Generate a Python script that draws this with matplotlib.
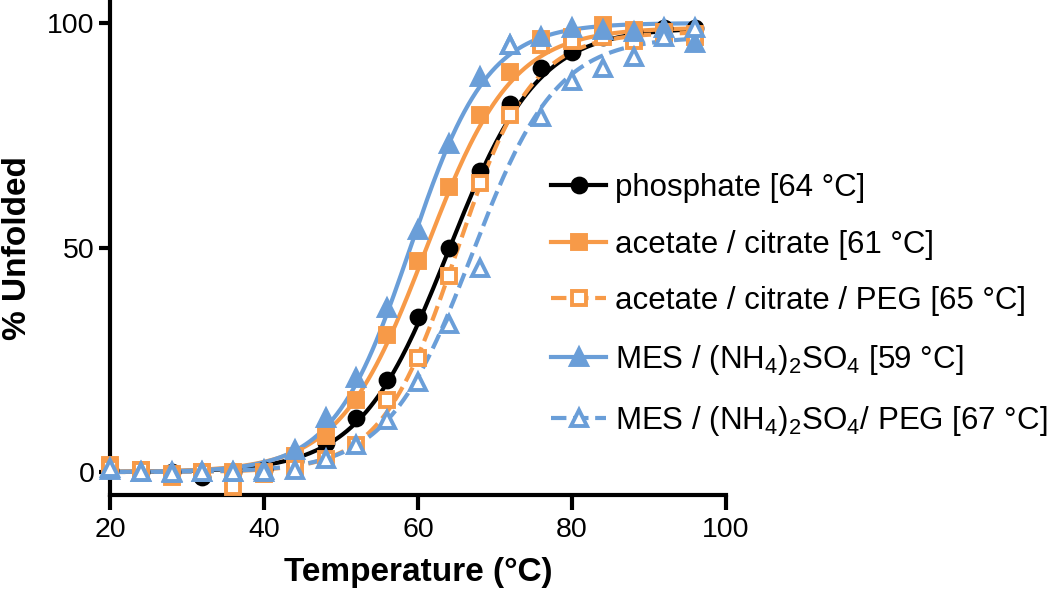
import numpy as np
import matplotlib
matplotlib.use("Agg")
import matplotlib.pyplot as plt
from matplotlib.lines import Line2D

plt.rcParams['font.family'] = ['Liberation Sans', 'DejaVu Sans']
plt.rcParams['mathtext.fontset'] = 'custom'
plt.rcParams['mathtext.rm'] = 'Liberation Sans'
plt.rcParams['mathtext.it'] = 'Liberation Sans:italic'
plt.rcParams['mathtext.bf'] = 'Liberation Sans:bold'

# --- data ---
temps = [20, 24, 28, 32, 36, 40, 44, 48, 52, 56, 60, 64, 68, 72, 76, 80, 84, 88, 92, 96]

phosphate = [0.5, 0, 0, -1, 0, 0.5, 2.5, 6.5, 12, 20.5, 34.5, 50, 67, 82, 90, 93.5, 97, 98, 99, 99]
acetate = [1.5, 0.5, -1, 0, 0, 0, 3.5, 8, 16, 30.5, 47, 63.5, 79.5, 89, 96.5, 97, 99.5, 98.5, 98, 97.5]
acetate_peg = [1, 0.5, -0.5, 0, -3.3, -0.5, 1, 3, 6, 16, 25.5, 43.6, 64.4, 79.5, 95, 96, 97, 96, 97, 97]
mes = [0.5, 0, 0, 0, 0, 0.5, 5, 12, 21, 36.5, 54, 73, 88, 95, 97, 99, 98.5, 98, 99, 95.5]
mes_peg = [1, 0, -0.3, 0, 0, 0, 0.5, 3, 6, 11.5, 20, 33, 45.5, 95, 79, 87, 90, 92.5, 97, 99]

labels = ["phosphate [64 °C]",
          "acetate / citrate [61 °C]",
          "acetate / citrate / PEG [65 °C]",
          "MES / (NH$_4$)$_2$SO$_4$ [59 °C]",
          "MES / (NH$_4$)$_2$SO$_4$/ PEG [67 °C]"]

# Boltzmann fit parameters (Tm from legend, slope / plateau estimated)
fit_tm = [64, 61, 65, 59, 67]
fit_slope = [5.8, 5.6, 4.9, 5.0, 5.5]
fit_top = [99, 99, 98, 100, 97]

orange = "#F79A48"
blue = "#6A9ED8"
series = [phosphate, acetate, acetate_peg, mes, mes_peg]
colors = ["black", orange, orange, blue, blue]
styles = ["-", "-", "--", "-", "--"]
markers = ["o", "s", "s", "^", "^"]
filled = [True, True, False, True, False]
msizes = [10, 10, 10, 11, 11]

fig = plt.figure(figsize=(10.5, 5.93), dpi=100)
ax = fig.add_axes([0.1048, 0.166, 0.5867, 0.833])

tfit = np.linspace(20, 96, 300)
handles = []
for i, vals in enumerate(series):
    fit = fit_top[i] / (1 + np.exp((fit_tm[i] - tfit) / fit_slope[i]))
    ax.plot(tfit, fit, color=colors[i], ls=styles[i], lw=3, zorder=2 + i)
    fc = colors[i] if filled[i] else "white"
    ax.plot(temps, vals, ls="none", marker=markers[i], ms=msizes[i],
            mfc=fc, mec=colors[i], mew=2.8, zorder=10 + i, clip_on=False)
    handles.append(Line2D([], [], color=colors[i], ls=styles[i], lw=3,
                          marker=markers[i], ms=msizes[i], mfc=fc,
                          mec=colors[i], mew=2.8))

ax.set_xlim(20, 100)
ax.set_ylim(-5, 105)
ax.set_xticks([20, 40, 60, 80, 100])
ax.set_yticks([0, 50, 100])
for s in ["top", "right"]:
    ax.spines[s].set_visible(False)
for s in ["left", "bottom"]:
    ax.spines[s].set_linewidth(3)
ax.tick_params(axis="both", width=3, labelsize=20.5, direction="out")
ax.tick_params(axis="y", length=8, pad=3)
ax.tick_params(axis="x", length=11, pad=5)

ax.set_xlabel("Temperature (°C)", fontsize=24, fontweight="bold", labelpad=10)
ax.set_ylabel("% Unfolded", fontsize=24, fontweight="bold", labelpad=10)

fig.legend(handles, labels, loc="center left", bbox_to_anchor=(0.525, 0.485),
           frameon=False, fontsize=22.5, handlelength=1.75, handletextpad=0.3,
           labelspacing=0.85, borderpad=0, borderaxespad=0)

fig.savefig("out.png", dpi=100)
